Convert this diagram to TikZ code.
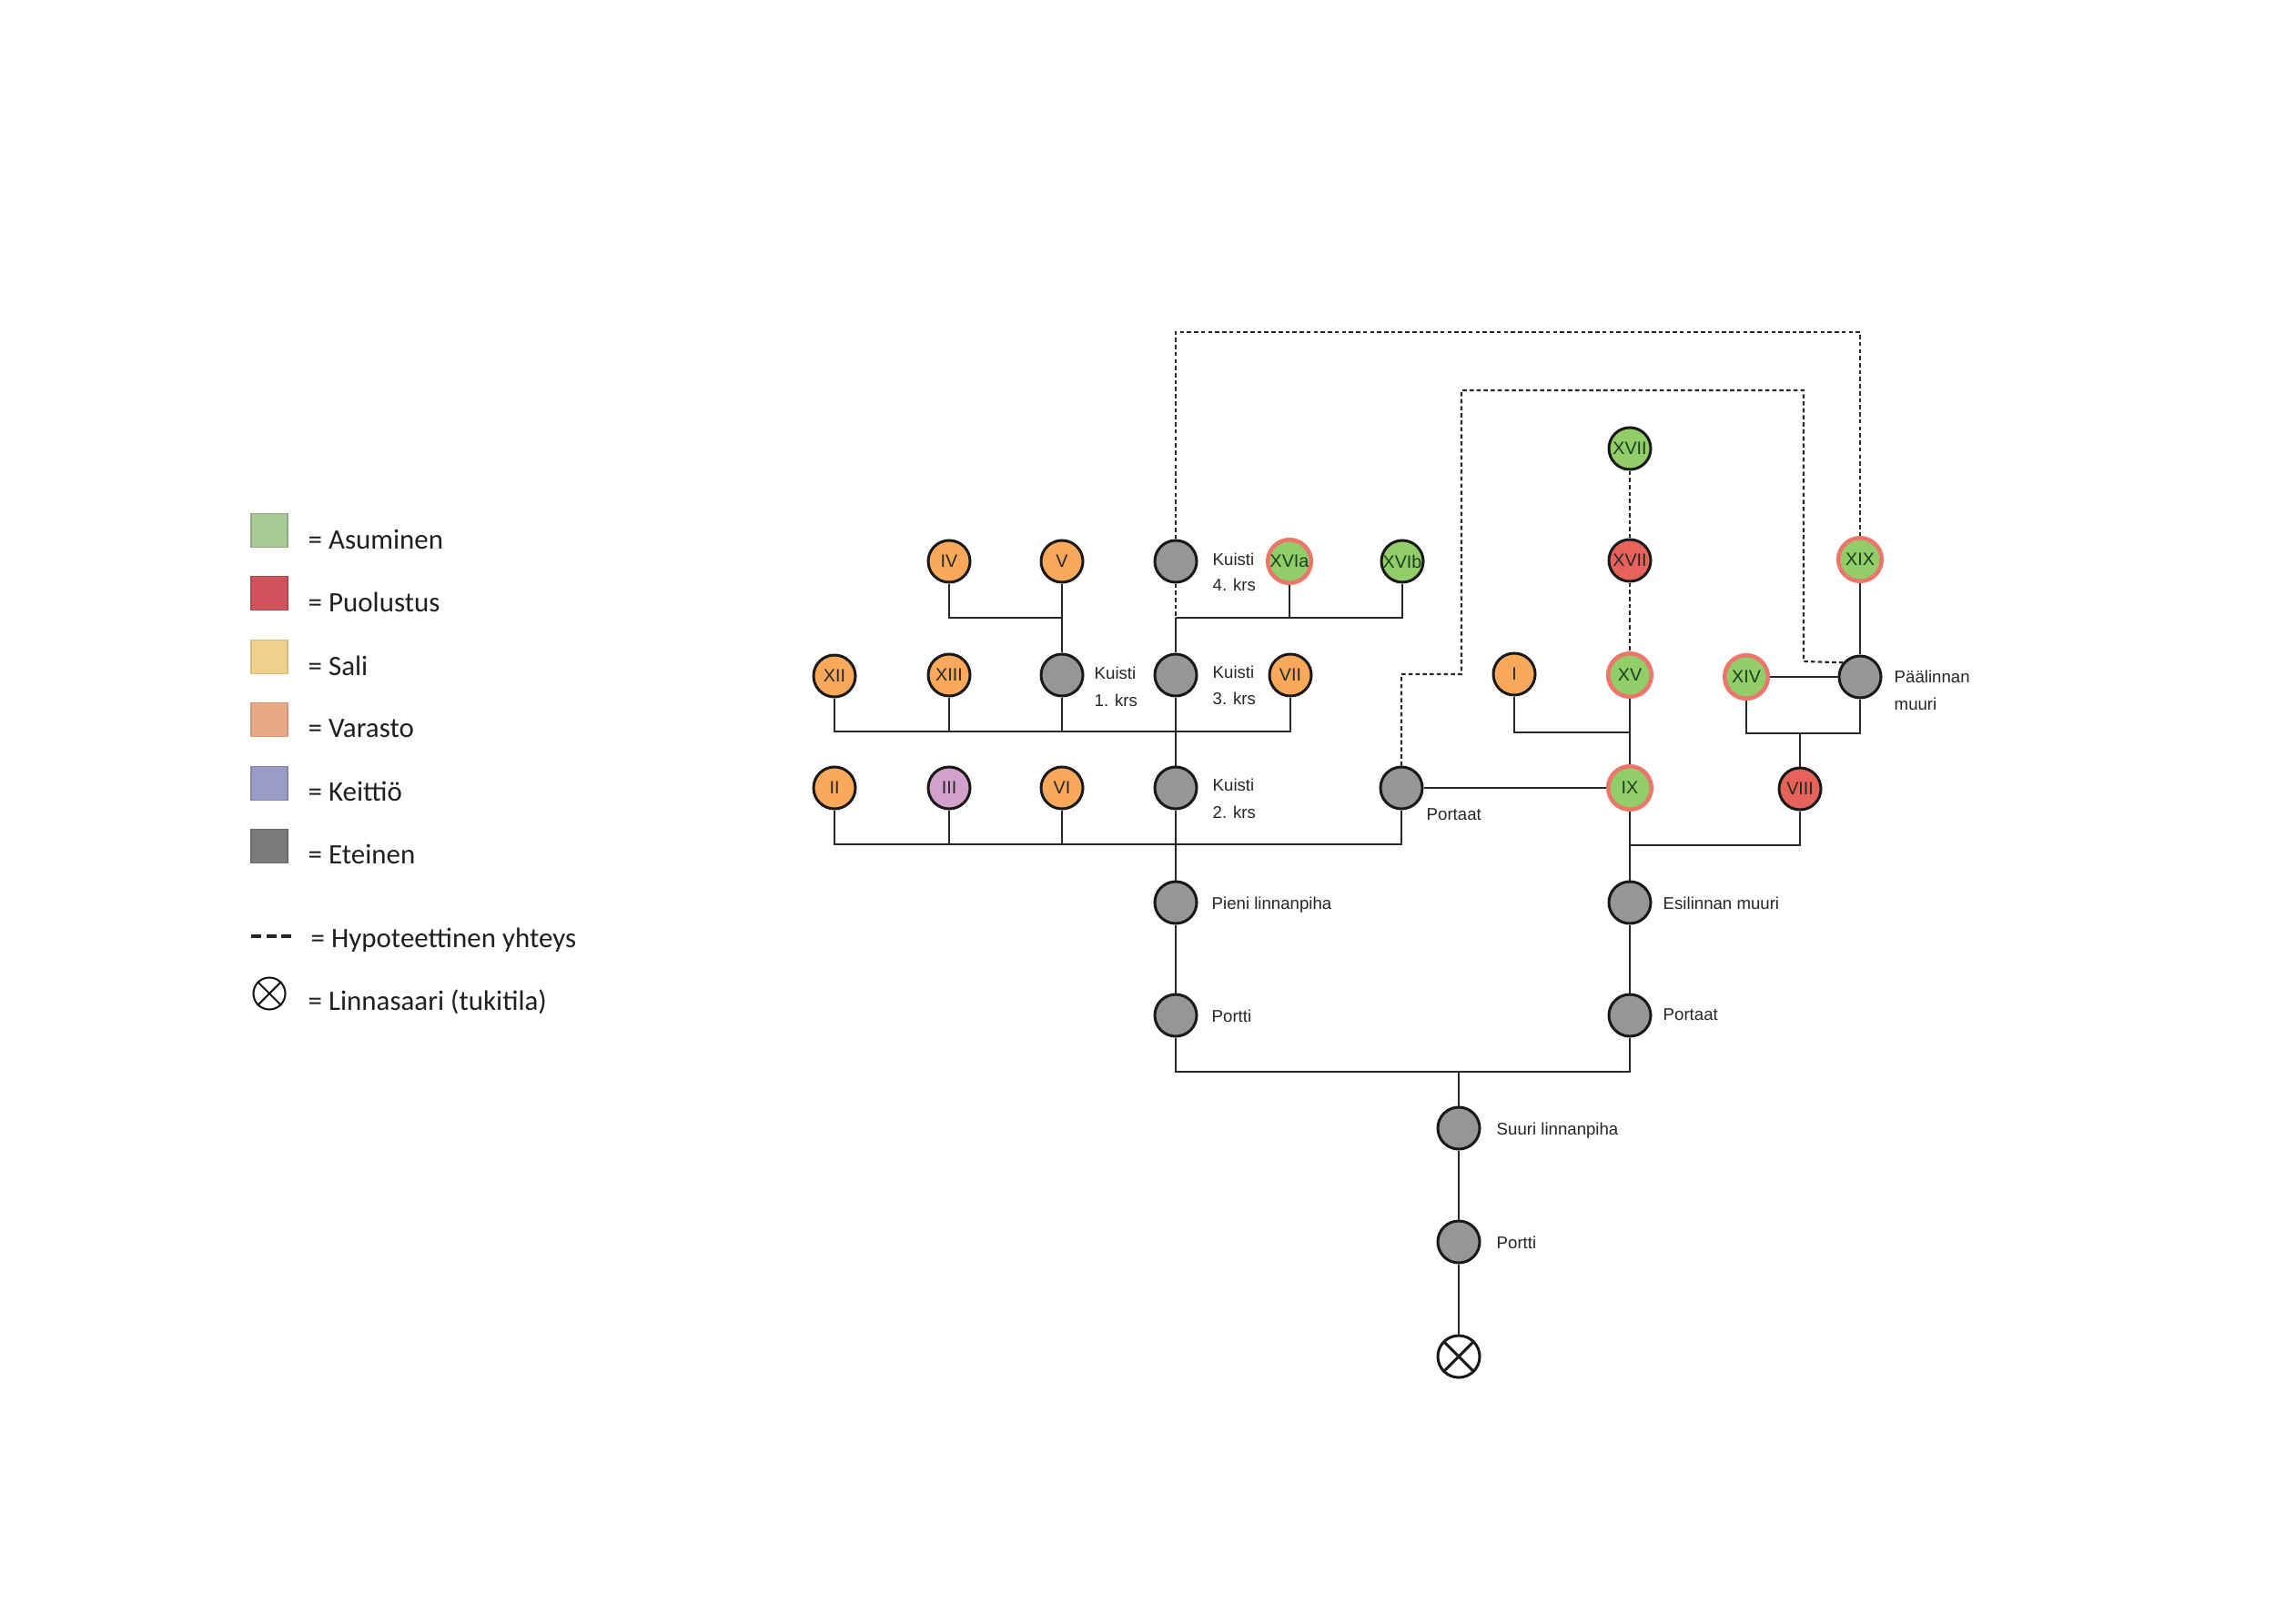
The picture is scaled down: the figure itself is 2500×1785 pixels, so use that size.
\documentclass[tikz,border=0pt]{standalone}
\usepackage{fontspec}
\setmainfont{Liberation Sans}
\newfontfamily\legfont{Carlito}
\definecolor{cOr}{RGB}{250,168,90}
\definecolor{cGr}{RGB}{145,205,105}
\definecolor{cRd}{RGB}{232,98,92}
\definecolor{cRing}{RGB}{236,118,106}
\definecolor{cGy}{RGB}{150,150,150}
\definecolor{cPu}{RGB}{210,160,205}
\definecolor{cGt}{RGB}{30,60,30}
\definecolor{cLine}{RGB}{40,40,40}
\definecolor{lA}{RGB}{168,200,150}
\definecolor{lP}{RGB}{208,82,90}
\definecolor{lS}{RGB}{240,208,138}
\definecolor{lV}{RGB}{232,170,134}
\definecolor{lK}{RGB}{154,156,200}
\definecolor{lE}{RGB}{123,123,123}
\tikzset{
  rn/.style={circle, draw=black!90, line width=0.85pt, minimum size=0.46cm, inner sep=0pt,
    font=\fontsize{5.6}{6}\selectfont, text=black!85},
  orn/.style={rn, fill=cOr},
  grn/.style={rn, fill=cGr, text=cGt},
  rdn/.style={rn, fill=cRd, text=black!85},
  ringn/.style={rn, fill=cGr, text=cGt, draw=cRing, line width=1.3pt, minimum size=0.475cm},
  gyn/.style={rn, fill=cGy},
  pun/.style={rn, fill=cPu},
  lbl/.style={font=\fontsize{5.3}{6}\selectfont, text=black!85, inner sep=0pt, anchor=base west},
  con/.style={line width=0.57pt, draw=cLine},
  hyp/.style={line width=0.6pt, draw=cLine, dash pattern=on 1.3pt off 0.9pt},
  legsq/.style={rectangle, minimum width=0.40cm, minimum height=0.37cm, inner sep=0pt, line width=0.4pt},
  legtxt/.style={font=\legfont\fontsize{8.8}{10}\selectfont, text=black!88, inner sep=0pt, anchor=base west}
}
\begin{document}
\begin{tikzpicture}[x=0.01cm, y=-0.01cm]
\useasboundingbox (0,0) rectangle (2500,1785);
\fill[white] (0,0) rectangle (2500,1785);

% ---------- legend ----------
\node[legsq, fill=lA, draw=lA!85!black] (sA) at (296,583) {};
\node[legsq, fill=lP, draw=lP!85!black] (sP) at (296,652) {};
\node[legsq, fill=lS, draw=lS!90!black] (sS) at (296,722) {};
\node[legsq, fill=lV, draw=lV!90!black] (sV) at (296,791) {};
\node[legsq, fill=lK, draw=lK!85!black] (sK) at (296,861) {};
\node[legsq, fill=lE, draw=lE!85!black] (sE) at (296,930) {};
\node[legtxt] (tA) at (338,603) {= Asuminen};
\node[legtxt] (tP) at (338,672) {= Puolustus};
\node[legtxt] (tS) at (338,742) {= Sali};
\node[legtxt] (tV) at (338,810) {= Varasto};
\node[legtxt] (tK) at (338,880) {= Keittiö};
\node[legtxt] (tE) at (338,949) {= Eteinen};
\coordinate (hy1) at (276,1029);
\coordinate (hy2) at (320,1029);
\draw[line width=1pt, draw=black!85, dash pattern=on 3.2pt off 1.5pt] (hy1) -- (hy2);
\node[legtxt] (tH) at (341,1041) {= Hypoteettinen yhteys};
\node[circle, draw=black!90, line width=0.6pt, minimum size=0.35cm, inner sep=0pt] (lx) at (296,1092) {};
\draw[line width=0.6pt, draw=black!90] (lx.45) -- (lx.225) (lx.135) -- (lx.315);
\node[legtxt] (tL) at (338,1110) {= Linnasaari (tukitila)};

% ---------- nodes ----------
\node[orn] (IV) at (1043,617) {IV};
\node[orn] (V) at (1167,617) {V};
\node[gyn] (K4) at (1292,617) {};
\node[ringn] (XVIa) at (1417,617) {XVIa};
\node[grn] (XVIb) at (1541,617) {XVIb};
\node[grn] (XVIIg) at (1791,493) {XVII};
\node[rdn] (XVIIr) at (1791,616) {XVII};
\node[ringn] (XIX) at (2044,615) {XIX};

\node[orn] (XII) at (917,743) {XII};
\node[orn] (XIII) at (1043,742) {XIII};
\node[gyn] (K1) at (1167,742) {};
\node[gyn] (K3) at (1292,742) {};
\node[orn] (VII) at (1418,742) {VII};
\node[orn] (I) at (1664,741) {I};
\node[ringn] (XV) at (1791,742) {XV};
\node[ringn] (XIV) at (1919,744) {XIV};
\node[gyn] (PM) at (2044,744) {};

\node[orn] (II) at (917,866) {II};
\node[pun] (III) at (1043,866) {III};
\node[orn] (VI) at (1167,866) {VI};
\node[gyn] (K2) at (1292,866) {};
\node[gyn] (PL) at (1540,866) {};
\node[ringn] (IX) at (1791,866) {IX};
\node[rdn] (VIII) at (1978,867) {VIII};

\node[gyn] (Pieni) at (1292,992) {};
\node[gyn] (Esi) at (1791,992) {};
\node[gyn] (Portti) at (1292,1116) {};
\node[gyn] (PR) at (1791,1116) {};
\node[gyn] (Suuri) at (1603,1240) {};
\node[gyn] (Portti2) at (1603,1365) {};
\node[circle, draw=black!90, line width=0.85pt, minimum size=0.46cm, inner sep=0pt, fill=white] (X) at (1603,1491) {};
\draw[line width=0.85pt, draw=black!90] (X.45) -- (X.225) (X.135) -- (X.315);

% ---------- labels ----------
\node[lbl] (k4a) at (1332,621) {Kuisti};
\node[lbl] (k4b) at (1332,649) {4. krs};
\node[lbl] (k1a) at (1202,746) {Kuisti};
\node[lbl] (k1b) at (1202,776) {1. krs};
\node[lbl] (k3a) at (1332,745) {Kuisti};
\node[lbl] (k3b) at (1332,774) {3. krs};
\node[lbl] (k2a) at (1332,869) {Kuisti};
\node[lbl] (k2b) at (1332,899) {2. krs};
\node[lbl] (pla) at (1567,901) {Portaat};
\node[lbl] (pma) at (2081,750) {Päälinnan};
\node[lbl] (pmb) at (2081,780) {muuri};
\node[lbl] (pia) at (1331,999) {Pieni linnanpiha};
\node[lbl] (esa) at (1827,999) {Esilinnan muuri};
\node[lbl] (poa) at (1331,1123) {Portti};
\node[lbl] (pra) at (1827,1121) {Portaat};
\node[lbl] (sua) at (1644,1247) {Suuri linnanpiha};
\node[lbl] (p2a) at (1644,1372) {Portti};

% ---------- solid connectors ----------
\coordinate (jA) at (1292,679);
\draw[con] (IV.south) -- (1043,679) -- (1167,679);
\draw[con] (V.south) -- (K1.north);
\draw[con] (jA) -- (K3.north);
\draw[con] (jA) -- (1541,679) -- (XVIb.south);
\draw[con] (XVIa.south) -- (1417,679);

\draw[con] (XII.south) -- (917,804) -- (1418,804) -- (VII.south);
\draw[con] (XIII.south) -- (1043,804);
\draw[con] (K1.south) -- (1167,804);
\draw[con, line width=0.75pt] (K3.south) -- (K2.north);

\draw[con] (II.south) -- (917,928) -- (1540,928) -- (PL.south);
\draw[con] (III.south) -- (1043,928);
\draw[con] (VI.south) -- (1167,928);
\draw[con, line width=0.75pt] (K2.south) -- (Pieni.north);
\draw[con] (Pieni.south) -- (Portti.north);
\draw[con] (Portti.south) -- (1292,1178) -- (1791,1178) -- (PR.south);
\draw[con] (Suuri.north) -- (1603,1178);
\draw[con] (Suuri.south) -- (Portti2.north);
\draw[con] (Portti2.south) -- (X.north);

\draw[con, line width=0.7pt] (PL.east) -- (IX.west);
\draw[con] (I.south) -- (1664,805) -- (1791,805);
\draw[con, line width=0.75pt] (XV.south) -- (IX.north);
\draw[con] (IX.south) -- (Esi.north);
\draw[con] (1791,929) -- (1978,929) -- (VIII.south);
\draw[con] (Esi.south) -- (PR.north);
\draw[con] (XIV.east) -- (PM.west);
\draw[con] (XIV.south) -- (1919,806) -- (2044,806) -- (PM.south);
\draw[con] (VIII.north) -- (1978,806);
\draw[con] (XIX.south) -- (PM.north);

% ---------- hypothetical connectors ----------
\draw[hyp] (K4.south) -- (jA);
\coordinate (o1) at (1292,365);
\coordinate (o2) at (2044,365);
\draw[hyp] (K4.north) -- (o1) -- (o2) -- (XIX.north);
\coordinate (i1) at (1540,741);
\coordinate (i2) at (1606,741);
\coordinate (i3) at (1606,429);
\coordinate (i4) at (1982,429);
\coordinate (i5) at (1982,727);
\draw[hyp] (PL.north) -- (i1) -- (i2) -- (i3) -- (i4) -- (i5) -- (PM.140);
\draw[hyp] (XVIIg.south) -- (XVIIr.north);
\draw[hyp] (XVIIr.south) -- (XV.north);
\end{tikzpicture}
\end{document}
